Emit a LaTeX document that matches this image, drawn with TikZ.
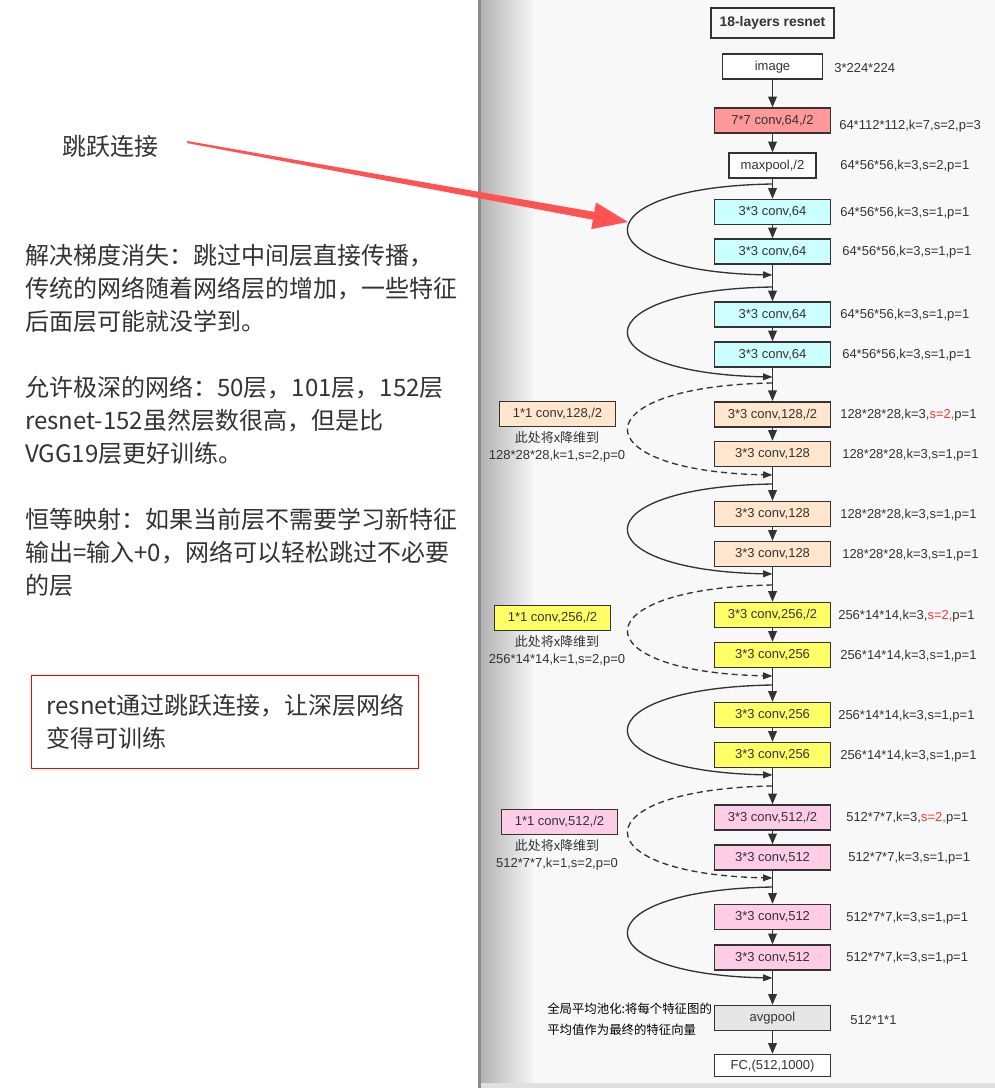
\documentclass[tikz,border=0pt]{standalone}
\usepackage{fontspec}
\setmainfont{Liberation Sans}
\newfontfamily\cjk{Noto Sans CJK SC}
\usetikzlibrary{arrows.meta,calc}

\definecolor{ink}{HTML}{333333}
\definecolor{panel}{HTML}{F8F8F8}
\definecolor{salmonl}{HTML}{FF9999}
\definecolor{cyanl}{HTML}{CCFFFF}
\definecolor{peachl}{HTML}{FFE6CC}
\definecolor{yellowl}{HTML}{FFFF66}
\definecolor{pinkl}{HTML}{FFCCE6}
\definecolor{greyl}{HTML}{E6E6E6}
\definecolor{jumpred}{HTML}{FF5252}
\definecolor{stridered}{HTML}{FF3333}

\tikzset{
  layer/.style={draw=ink, line width=1.1pt, text=ink, minimum width=87pt,
    minimum height=18.75pt, inner sep=0pt, text height=6.8pt, text depth=1pt},
  dim/.style={text=ink, anchor=west, inner sep=0pt},
  flow/.style={draw=ink, line width=1pt, -{Triangle[length=8pt,width=6.5pt]}},
  skipline/.style={draw=ink, line width=1pt, -{Triangle[length=7pt,width=5pt]}},
  skipdash/.style={skipline, dash pattern=on 4.5pt off 3pt},
  bigtext/.style={text=ink, font=\cjk\fontsize{18}{24.75}\selectfont,
    inner sep=0pt, align=left},
  downnote/.style={text=ink, align=center, inner sep=0pt,
    font=\fontsize{9.75}{12.75}\selectfont},
}
\newcommand\stwo{\textcolor{stridered}{s=2,}}

\begin{document}
\begin{tikzpicture}[x=0.75pt, y=-0.75pt, font=\fontsize{9.75}{11.7}\selectfont]
  \useasboundingbox (0,0) rectangle (995,1088);
  \fill[white] (0,0) rectangle (480,1088);
  \fill[panel] (480,0) rectangle (995,1088);
  \shade[left color=black!30, right color=panel] (481,0) rectangle (535,1088);
  \fill[black!45] (477.5,0) rectangle (481,1088);
  \fill[black!12] (481,1083) rectangle (995,1088);

  \node[layer, line width=1.3pt, minimum width=92.25pt, minimum height=22.5pt,
    font=\bfseries\fontsize{10.4}{12}\selectfont] (title) at (772.5,23) {18-layers resnet};
  \node[layer, fill=white, minimum width=75pt] (img) at (772.5,66.5) {image};
  \node[dim] (limg) at (834,68) {3*224*224};
  \node[layer, fill=salmonl] (conv1) at (772.5,120.5) {7*7 conv,64,/2};
  \node[dim] (lconv1) at (839,126) {64*112*112,k=7,s=2,p=3};
  \node[layer, fill=white, minimum width=65.25pt] (pool) at (772.5,165.5) {maxpool,/2};
  \node[dim] (lpool) at (840,166.5) {64*56*56,k=3,s=2,p=1};

  \foreach \nm/\y/\col/\txt/\lx/\lab in {
    c1/212/cyanl/{3*3 conv,64}/840/{64*56*56,k=3,s=1,p=1},
    c2/251.5/cyanl/{3*3 conv,64}/842/{64*56*56,k=3,s=1,p=1},
    c3/314.5/cyanl/{3*3 conv,64}/840/{64*56*56,k=3,s=1,p=1},
    c4/354.5/cyanl/{3*3 conv,64}/842/{64*56*56,k=3,s=1,p=1},
    o1/414.3/peachl/{3*3 conv,128,/2}/840/{128*28*28,k=3,\stwo p=1},
    o2/454/peachl/{3*3 conv,128}/842/{128*28*28,k=3,s=1,p=1},
    o3/514/peachl/{3*3 conv,128}/840/{128*28*28,k=3,s=1,p=1},
    o4/554/peachl/{3*3 conv,128}/842/{128*28*28,k=3,s=1,p=1},
    y1/615/yellowl/{3*3 conv,256,/2}/838/{256*14*14,k=3,\stwo p=1},
    y2/655/yellowl/{3*3 conv,256}/840/{256*14*14,k=3,s=1,p=1},
    y3/715/yellowl/{3*3 conv,256}/838/{256*14*14,k=3,s=1,p=1},
    y4/755/yellowl/{3*3 conv,256}/840/{256*14*14,k=3,s=1,p=1},
    p1/817.5/pinkl/{3*3 conv,512,/2}/846/{512*7*7,k=3,\stwo p=1},
    p2/857.5/pinkl/{3*3 conv,512}/848/{512*7*7,k=3,s=1,p=1},
    p3/917/pinkl/{3*3 conv,512}/846/{512*7*7,k=3,s=1,p=1},
    p4/957.5/pinkl/{3*3 conv,512}/846/{512*7*7,k=3,s=1,p=1}} {
    \node[layer, fill=\col] (\nm) at (772.5,\y) {\txt};
    \node[dim] (l\nm) at (\lx,\y+1) {\lab};
  }

  \node[layer, fill=greyl] (avg) at (772.5,1018) {avgpool};
  \node[dim] (lavg) at (850,1020) {512*1*1};
  \node[layer, fill=white, minimum height=16.5pt] (fc) at (772.5,1065.5) {FC,(512,1000)};
  \node[font=\cjk\fontsize{9.3}{15.75}\selectfont, align=left, anchor=west, inner sep=0pt]
    (gapnote) at (547,1019.5) {全局平均池化:将每个特征图的\\平均值作为最终的特征向量};

  \foreach \nm/\x/\y/\col/\txt/\lab in {
    d1/557.5/414/peachl/{1*1 conv,128,/2}/{128*28*28,k=1,s=2,p=0},
    d2/552.5/618/yellowl/{1*1 conv,256,/2}/{256*14*14,k=1,s=2,p=0},
    d3/559.5/822/pinkl/{1*1 conv,512,/2}/{512*7*7,k=1,s=2,p=0}} {
    \node[layer, fill=\col] (\nm) at (\x,\y) {\txt};
    \node[downnote] (n\nm) at (557,\y+33) {{\cjk 此处将x降维到}\\\lab};
  }

  \foreach \a/\b in {img/conv1, conv1/pool, pool/c1, c1/c2, c2/c3, c3/c4, c4/o1,
    o1/o2, o2/o3, o3/o4, o4/y1, y1/y2, y2/y3, y3/y4, y4/p1, p1/p2, p2/p3, p3/p4,
    p4/avg, avg/fc}
    \draw[flow] (\a) -- (\b);

  \foreach \s/\e [count=\i] in {184/275, 287/377, 484/574, 685/775, 887/978} {
    \coordinate (ks\i) at (772.5,\s);
    \coordinate (ke\i) at (772.5,\e);
    \draw[skipline] (ks\i) .. controls +(-192,3) and +(-192,-4) .. (ke\i);
  }
  \foreach \s/\e [count=\i] in {383/475, 585/676, 786/878} {
    \coordinate (ds\i) at (772.5,\s);
    \coordinate (de\i) at (772.5,\e);
    \draw[skipdash] (ds\i) .. controls +(-192,3) and +(-192,-4) .. (de\i);
  }

  \node[bigtext] (jump) at (110.5,146) {跳跃连接};
  \node[bigtext, anchor=west] (why1) at (25,288)
    {解决梯度消失：跳过中间层直接传播，\\传统的网络随着网络层的增加，一些特征\\后面层可能就没学到。};
  \node[bigtext, anchor=west] (why2) at (25,420)
    {允许极深的网络：50层，101层，152层\\resnet-152虽然层数很高，但是比\\VGG19层更好训练。};
  \node[bigtext, anchor=west] (why3) at (25,552)
    {恒等映射：如果当前层不需要学习新特征\\输出=输入+0，网络可以轻松跳过不必要\\的层};
  \node[bigtext, draw=red, line width=0.8pt, anchor=north west, text width=267.75pt,
    inner xsep=11.25pt, minimum height=69.75pt] (sum) at (31,675)
    {resnet通过跳跃连接，让深层网络\\变得可训练};

  \coordinate (js) at (187,142);
  \coordinate (jt) at (628,222);
  \fill[jumpred] ($(js)+(0.2,-1)$) -- (594.3,211.9) -- (596,202.5) -- (jt)
    -- (591.2,229.1) -- (592.9,219.7) -- ($(js)+(-0.2,1)$) -- cycle;
\end{tikzpicture}
\end{document}
